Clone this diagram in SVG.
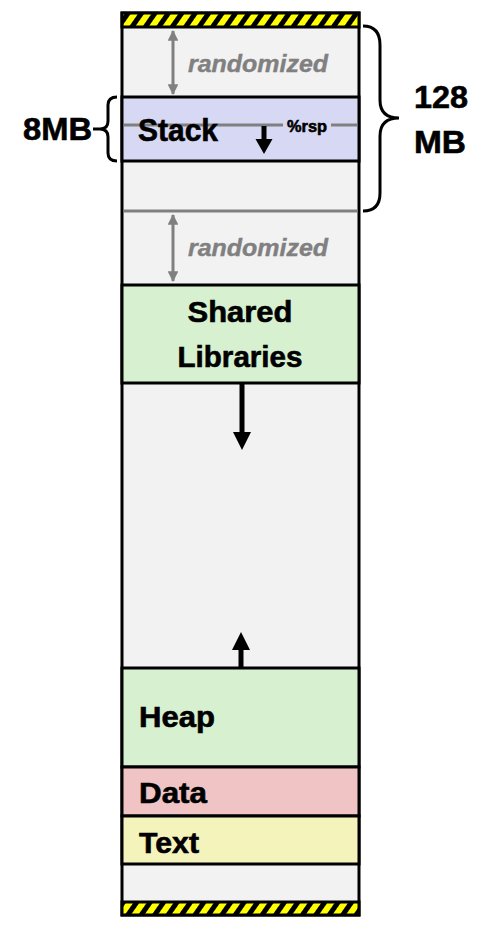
<svg xmlns="http://www.w3.org/2000/svg" width="482" height="948" viewBox="0 0 482 948">
<defs>
<pattern id="hatch" patternUnits="userSpaceOnUse" width="11" height="11" patternTransform="rotate(35)">
<rect width="11" height="11" fill="#ffff00"/>
<rect width="5" height="11" fill="#000"/>
</pattern>
<marker id="gh" viewBox="0 0 10 10" refX="9" refY="5" markerWidth="4" markerHeight="3.6" orient="auto-start-reverse" markerUnits="strokeWidth">
<path d="M0,0 L10,5 L0,10 Z" fill="#808080"/>
</marker>
</defs>
<style>
.seg{stroke:#000;stroke-width:3}
.lbl{font-family:"Liberation Sans",Arial,sans-serif;font-weight:bold;fill:#000;stroke:#000;stroke-width:0.6}
.rnd{font-family:"Liberation Sans",Arial,sans-serif;font-weight:bold;font-style:italic;fill:#808080;stroke:#808080;stroke-width:0.4;font-size:24px}
.garrow{stroke:#808080;stroke-width:3;fill:none;marker-start:url(#gh);marker-end:url(#gh)}
.brace{stroke:#000;stroke-width:3;fill:none}
</style>
<rect x="0" y="0" width="482" height="948" fill="#fff"/>
<g id="column">
<rect x="122" y="13" width="237" height="902" fill="#f2f2f2" stroke="#000" stroke-width="3"/>
</g>
<g id="top-guard">
<rect x="122" y="13" width="237" height="14" fill="url(#hatch)" class="seg"/>
</g>
<g id="stack">
<rect x="122" y="97" width="237" height="64" fill="#d7d8f4" class="seg"/>
<line x1="124" y1="125" x2="283" y2="125" stroke="#808080" stroke-width="3"/>
<line x1="331" y1="125" x2="357" y2="125" stroke="#808080" stroke-width="3"/>
<text class="lbl" x="138" y="141" font-size="32" textLength="80" lengthAdjust="spacingAndGlyphs">Stack</text>
<text class="lbl" x="287" y="132" font-size="17" stroke-width="0.3" textLength="40" lengthAdjust="spacingAndGlyphs">%rsp</text>
</g>
<g id="gray-line">
<line x1="124" y1="211" x2="357" y2="211" stroke="#808080" stroke-width="3"/>
</g>
<g id="shared-libraries">
<rect x="122" y="285" width="237" height="98" fill="#d6f0d0" class="seg"/>
<text class="lbl" x="240" y="322" font-size="30" text-anchor="middle" textLength="105" lengthAdjust="spacingAndGlyphs">Shared</text>
<text class="lbl" x="240" y="367" font-size="30" text-anchor="middle" textLength="125" lengthAdjust="spacingAndGlyphs">Libraries</text>
</g>
<g id="heap">
<rect x="122" y="668" width="237" height="99" fill="#d6f0d0" class="seg"/>
<text class="lbl" x="139" y="727" font-size="29" textLength="76" lengthAdjust="spacingAndGlyphs">Heap</text>
</g>
<g id="data">
<rect x="122" y="767" width="237" height="49" fill="#f0c4c4" class="seg"/>
<text class="lbl" x="139" y="803" font-size="29" textLength="68" lengthAdjust="spacingAndGlyphs">Data</text>
</g>
<g id="text">
<rect x="122" y="816" width="237" height="48" fill="#f5f3bc" class="seg"/>
<text class="lbl" x="139" y="853" font-size="29" textLength="60" lengthAdjust="spacingAndGlyphs">Text</text>
</g>
<g id="bottom-guard">
<rect x="122" y="902" width="237" height="13" fill="url(#hatch)" class="seg"/>
</g>
<g id="randomized-top">
<line class="garrow" x1="173" y1="31" x2="173" y2="94"/>
<text class="rnd" x="188" y="72" textLength="140" lengthAdjust="spacingAndGlyphs">randomized</text>
</g>
<g id="randomized-bottom">
<line class="garrow" x1="173" y1="215" x2="173" y2="281"/>
<text class="rnd" x="188" y="256" textLength="140" lengthAdjust="spacingAndGlyphs">randomized</text>
</g>
<g id="label-8mb">
<path class="brace" d="M117,97 Q108,97 108,105 L108,121 Q108,129 100,129 Q108,129 108,137 L108,153 Q108,161 117,161"/>
<line x1="93" y1="129" x2="100" y2="129" stroke="#000" stroke-width="3"/>
<text class="lbl" x="23" y="140" font-size="31" textLength="69" lengthAdjust="spacingAndGlyphs">8MB</text>
</g>
<g id="label-128mb">
<path class="brace" d="M363,26 Q380,26 380,45 L380,100 Q380,118 399,118 Q380,118 380,136 L380,193 Q380,211 363,211"/>
<text class="lbl" x="414" y="108" font-size="32" textLength="54" lengthAdjust="spacingAndGlyphs">128</text>
<text class="lbl" x="414" y="153" font-size="32" textLength="52" lengthAdjust="spacingAndGlyphs">MB</text>
</g>
<g id="connectors">
<line x1="264" y1="126" x2="264" y2="140" stroke="#000" stroke-width="5"/>
<path d="M255.5,139 L272.5,139 L264,154 Z" fill="#000"/>
<line x1="242" y1="384" x2="242" y2="434" stroke="#000" stroke-width="5"/>
<path d="M233,432 L251,432 L242,450 Z" fill="#000"/>
<line x1="241" y1="667" x2="241" y2="648" stroke="#000" stroke-width="5"/>
<path d="M232,650 L250,650 L241,632 Z" fill="#000"/>
</g>
</svg>
